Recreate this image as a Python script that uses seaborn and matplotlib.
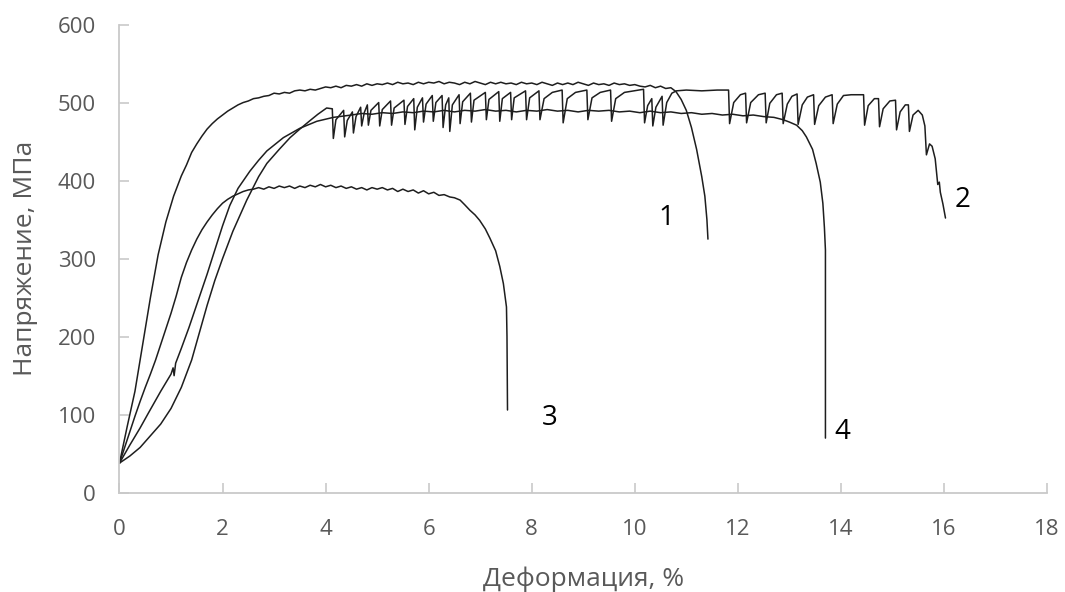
import matplotlib
matplotlib.use("Agg")
import matplotlib.pyplot as plt
import seaborn as sns

# curve 1
strain1 = [0, 0.15, 0.3, 0.45, 0.6, 0.75, 0.9, 1.05, 1.2, 1.3, 1.4, 1.5, 1.6, 1.7, 1.8, 1.9,
           2.0, 2.1, 2.2, 2.3, 2.4, 2.5, 2.6, 2.7, 2.8, 2.9, 3.0, 3.1, 3.2, 3.3, 3.4, 3.5,
           3.6, 3.7, 3.8, 3.9, 4.0, 4.1, 4.2, 4.3, 4.4, 4.5, 4.6, 4.7, 4.8, 4.9, 5.0, 5.1,
           5.2, 5.3, 5.4, 5.5, 5.6, 5.7, 5.8, 5.9, 6.0, 6.1, 6.2, 6.3, 6.4, 6.5, 6.6, 6.7,
           6.8, 6.9, 7.0, 7.1, 7.2, 7.3, 7.4, 7.5, 7.6, 7.7, 7.8, 7.9, 8.0, 8.1, 8.2, 8.3,
           8.4, 8.5, 8.6, 8.7, 8.8, 8.9, 9.0, 9.1, 9.2, 9.3, 9.4, 9.5, 9.6, 9.7, 9.8, 9.9,
           10.0, 10.1, 10.2, 10.3, 10.4, 10.5, 10.6, 10.7, 10.8, 10.9, 11.0, 11.1, 11.2,
           11.3, 11.36, 11.4, 11.42]
stress1 = [38, 85, 130, 190, 250, 305, 347, 380, 406, 420, 436, 447, 457, 466, 473, 479,
           484, 489, 493, 497, 500, 502, 505, 506, 508, 509, 512, 511, 513, 512, 515, 516,
           515, 517, 516, 518, 520, 519, 521, 519, 522, 521, 523, 521, 524, 522, 524, 523,
           525, 523, 526, 524, 525, 523, 526, 524, 526, 525, 527, 524, 526, 525, 523, 526,
           524, 527, 525, 523, 526, 524, 526, 524, 525, 523, 526, 524, 525, 523, 526, 524,
           522, 525, 523, 525, 523, 526, 524, 522, 525, 523, 524, 522, 525, 523, 524, 522,
           523, 521, 520, 522, 519, 521, 518, 519, 514, 504, 490, 468, 440, 405, 380, 350,
           325]

# curve 2 (serrated)
strain2 = [0, 0.2, 0.4, 0.56, 0.8, 1.0, 1.2, 1.4, 1.55, 1.7, 1.85, 2.0, 2.2, 2.47, 2.7,
           2.86, 3.1, 3.31, 3.5, 3.7, 3.85, 4.02, 4.13, 4.15, 4.20, 4.35, 4.37, 4.42, 4.52,
           4.54, 4.59, 4.68, 4.70, 4.75, 4.81, 4.83, 4.88, 5.03, 5.05, 5.10, 5.26, 5.28,
           5.33, 5.52, 5.54, 5.59, 5.71, 5.73, 5.78, 5.88, 5.90, 5.95, 6.07, 6.09, 6.14,
           6.26, 6.28, 6.33, 6.39, 6.41, 6.46, 6.59, 6.61, 6.66, 6.81, 6.83, 6.88, 7.10,
           7.12, 7.17, 7.36, 7.38, 7.43, 7.59, 7.61, 7.66, 7.88, 7.90, 7.96, 8.14, 8.16,
           8.24, 8.40, 8.59, 8.61, 8.69, 8.85, 9.07, 9.09, 9.17, 9.33, 9.53, 9.55, 9.63,
           9.80, 10.17, 10.19, 10.25, 10.33, 10.35, 10.41, 10.53, 10.55, 10.62, 10.72,
           10.81, 11.0, 11.3, 11.6, 11.82, 11.84, 11.92, 12.05, 12.15, 12.17, 12.25, 12.40,
           12.53, 12.55, 12.62, 12.75, 12.86, 12.88, 12.96, 13.05, 13.15, 13.17, 13.25,
           13.35, 13.47, 13.49, 13.57, 13.70, 13.83, 13.85, 13.93, 14.05, 14.20, 14.44,
           14.46, 14.53, 14.65, 14.73, 14.75, 14.82, 14.95, 15.06, 15.08, 15.15, 15.25,
           15.31, 15.33, 15.40, 15.50, 15.58, 15.63, 15.66, 15.72, 15.77, 15.83, 15.88,
           15.91, 15.93, 15.98, 16.03]
stress2 = [38, 47, 58, 70, 88, 108, 135, 170, 205, 240, 272, 300, 335, 375, 405,
           422, 440, 455, 466, 477, 485, 493, 492, 454, 478, 490, 456, 477, 488,
           461, 482, 494, 470, 487, 497, 471, 490, 500, 470, 491, 502, 471,
           493, 503, 472, 495, 505, 465, 494, 506, 475, 498, 509, 476, 500,
           509, 468, 497, 506, 463, 497, 510, 473, 501, 512, 475, 503, 513,
           478, 504, 514, 476, 505, 513, 478, 506, 515, 478, 506, 515, 478,
           505, 513, 516, 474, 505, 513, 516, 478, 506, 513, 516, 476, 505,
           513, 517, 474, 496, 505, 470, 494, 508, 471, 500, 512,
           515, 516, 515, 516, 516, 473, 500, 510, 512, 474, 500, 510,
           512, 474, 499, 510, 512, 473, 498, 508, 511, 472, 497,
           507, 510, 472, 496, 507, 510, 473, 498, 509, 510, 510,
           471, 496, 505, 505, 469, 492, 502, 503, 465, 488, 497,
           497, 463, 484, 490, 484, 470, 433, 447, 444, 428, 395,
           398, 385, 370, 352]

# curve 3
strain3 = [0, 0.1, 0.2, 0.3, 0.4, 0.5, 0.6, 0.7, 0.8, 0.9, 1.0, 1.1, 1.2, 1.3, 1.4, 1.5,
           1.6, 1.7, 1.8, 1.9, 2.0, 2.1, 2.2, 2.3, 2.4, 2.5, 2.6, 2.7, 2.8, 2.9, 3.0, 3.1,
           3.2, 3.3, 3.4, 3.5, 3.6, 3.7, 3.8, 3.9, 4.0, 4.1, 4.2, 4.3, 4.4, 4.5, 4.6, 4.7,
           4.8, 4.9, 5.0, 5.1, 5.2, 5.3, 5.4, 5.5, 5.6, 5.7, 5.8, 5.9, 6.0, 6.1, 6.2, 6.3,
           6.41, 6.5, 6.61, 6.7, 6.8, 6.9, 6.99, 7.1, 7.19, 7.3, 7.38, 7.45, 7.51, 7.52, 7.53]
stress3 = [38, 58, 78, 98, 117, 135, 152, 170, 190, 210, 230, 252, 276, 295, 311, 325,
           337, 347, 356, 364, 371, 376, 380, 383, 386, 388, 389, 391, 389, 392, 390, 393,
           391, 393, 390, 393, 391, 394, 392, 395, 392, 394, 391, 393, 390, 392, 389, 391,
           388, 391, 389, 391, 388, 390, 386, 389, 386, 388, 384, 387, 383, 385, 381, 382,
           379, 378, 375, 369, 362, 356, 349, 338, 326, 310, 290, 268, 238, 200, 106]

# curve 4
strain4 = [0, 0.2, 0.4, 0.56, 0.8, 1.0, 1.04, 1.06, 1.09, 1.2, 1.35, 1.53, 1.7, 1.85,
           2.0, 2.14, 2.3, 2.53, 2.7, 2.86, 3.18, 3.5, 3.83, 4.15, 4.5, 4.7, 4.9, 5.1,
           5.3, 5.5, 5.7, 5.9, 6.1, 6.3, 6.5, 6.7, 6.9, 7.1, 7.3, 7.5, 7.7, 7.9, 8.1,
           8.3, 8.5, 8.7, 8.9, 9.1, 9.3, 9.5, 9.7, 9.9, 10.1, 10.3, 10.5, 10.7, 10.9,
           11.1, 11.3, 11.5, 11.7, 11.9, 12.1, 12.3, 12.5, 12.7, 12.88, 13.0, 13.14,
           13.25, 13.33, 13.45, 13.52, 13.6, 13.65, 13.68, 13.70, 13.70]
stress4 = [38, 61, 83, 102, 130, 152, 160, 150, 166, 185, 212, 247, 280, 311,
           342, 368, 390, 412, 426, 438, 455, 467, 476, 481, 484, 486, 485, 487,
           486, 488, 487, 489, 488, 490, 488, 490, 489, 491, 489, 490, 488, 490, 489,
           491, 489, 490, 488, 490, 489, 490, 488, 489, 487, 489, 487, 488, 486,
           487, 485, 486, 484, 485, 483, 484, 482, 481, 478, 475, 471,
           464, 456, 440, 422, 398, 371, 340, 311, 70]

curve_labels = ["1", "2", "3", "4"]
label_strain = [10.62, 16.36, 8.35, 14.02]
label_stress = [352, 375, 96, 78]

x_ticks = [0, 2, 4, 6, 8, 10, 12, 14, 16, 18]
y_ticks = [0, 100, 200, 300, 400, 500, 600]

sns.set_theme(style="white")
plt.rcParams["font.family"] = ["Open Sans", "DejaVu Sans"]

fig = plt.figure(figsize=(10.65, 5.92), dpi=100)
ax = fig.add_axes([0.1122, 0.1677, 0.8709, 0.7909])

line_color = "#1e1e1e"
for xs, ys in [(strain1, stress1), (strain2, stress2), (strain3, stress3), (strain4, stress4)]:
    sns.lineplot(x=xs, y=ys, sort=False, estimator=None, color=line_color,
                 linewidth=1.1, ax=ax)

for lab, lx, ly in zip(curve_labels, label_strain, label_stress):
    ax.text(lx, ly, lab, fontsize=20, color="black", ha="center", va="center")

ax.set_xlim(0, 18)
ax.set_ylim(0, 600)
ax.set_xticks(x_ticks)
ax.set_yticks(y_ticks)

axis_gray = "#c9c9c9"
for side in ["top", "right"]:
    ax.spines[side].set_visible(False)
for side in ["left", "bottom"]:
    ax.spines[side].set_color(axis_gray)
    ax.spines[side].set_linewidth(1.3)

ax.tick_params(axis="both", direction="in", length=7, width=1.2, color=axis_gray,
               labelcolor="#595959", labelsize=16)
ax.tick_params(axis="y", pad=17, left=True)
ax.tick_params(axis="x", pad=19, bottom=True)

ax.set_xlabel("Деформация, %", fontsize=19, color="#595959")
ax.set_ylabel("Напряжение, МПа", fontsize=19, color="#595959")
ax.xaxis.set_label_coords(0.5, -0.158)
ax.yaxis.set_label_coords(-0.088, 0.5)

fig.savefig("out.png", dpi=100)
plt.close(fig)
